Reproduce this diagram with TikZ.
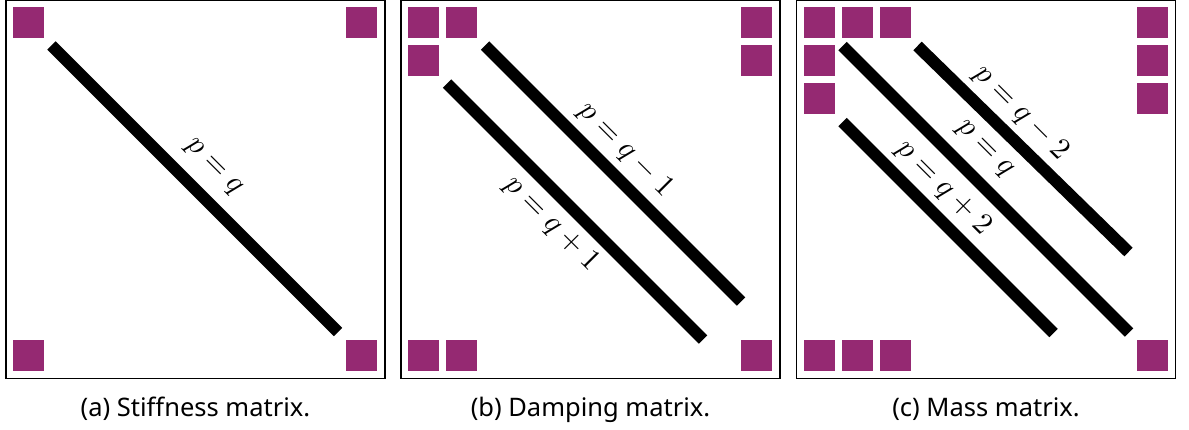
\documentclass[tikz,border=0pt]{standalone}
\usepackage{fontspec}
\newfontfamily\capfont{Noto Sans}
\usetikzlibrary{calc}
\definecolor{blockfill}{RGB}{149,41,114}
\tikzset{
  frame/.style={draw=black, line width=1.3pt},
  block/.style={fill=blockfill},
  band/.style={draw=black, line width=12pt, line cap=butt},
  bandlabel/.style={font=\fontsize{10}{12}\selectfont, inner sep=0pt, scale=3, rotate=-45},
  caption/.style={font=\capfont\fontsize{25.5}{30}\selectfont, anchor=base, inner sep=0pt}
}
% a filled non-zero block of side 31 with its top-left corner at (#1,#2)
\newcommand\blk[2]{\fill[block] (#1,#2) rectangle ++(31,31);}

\begin{document}
\begin{tikzpicture}[x=1pt, y=-1pt]
\useasboundingbox (0,0) rectangle (1189,430);

% ---------- (a) stiffness ----------
\begin{scope}[shift={(6,0)}]
  \draw[frame] (0,0.5) rectangle (379,378.5);
  \blk{7}{7.5} \blk{340}{7.5} \blk{7}{340} \blk{340}{340}
  \coordinate (as) at (45.5,45.5);
  \coordinate (ae) at (332,332);
  \draw[band] (as) -- (ae);
  \node[bandlabel] (al) at (207,168) {$p=q$};
  \node[caption] (acap) at (189.5,416) {(a) Stiffness matrix.};
\end{scope}

% ---------- (b) damping ----------
\begin{scope}[shift={(401,0)}]
  \draw[frame] (0,0.5) rectangle (379,378.5);
  \blk{7}{7.5} \blk{45}{7.5} \blk{7}{45.5}
  \blk{340}{7.5} \blk{340}{45.5}
  \blk{7}{340} \blk{45}{340}
  \blk{340}{340}
  \coordinate (bus) at (84,45.5);
  \coordinate (bue) at (340,301.5);
  \coordinate (bls) at (46,83.5);
  \coordinate (ble) at (302,339.5);
  \draw[band] (bus) -- (bue);
  \draw[band] (bls) -- (ble);
  \node[bandlabel] (bul) at (224.5,150) {$p=q-1$};
  \node[bandlabel] (bll) at (150.5,224) {$p=q+1$};
  \node[caption] (bcap) at (189.5,416) {(b) Damping matrix.};
\end{scope}

% ---------- (c) mass ----------
\begin{scope}[shift={(796.5,0)}]
  \draw[frame] (0,0.5) rectangle (379,378.5);
  \blk{7}{7.5} \blk{45}{7.5} \blk{83}{7.5}
  \blk{7}{45.5} \blk{7}{83.5}
  \blk{340}{7.5} \blk{340}{45.5} \blk{340}{83.5}
  \blk{7}{340} \blk{45}{340} \blk{83}{340}
  \blk{340}{340}
  \coordinate (cms) at (46,46);
  \coordinate (cme) at (332.5,332.5);
  \coordinate (cus) at (121,46);
  \coordinate (cue) at (332,252);
  \coordinate (cls) at (46,122);
  \coordinate (cle) at (257,333);
  \draw[band] (cms) -- (cme);
  \draw[band] (cus) -- (cue);
  \draw[band] (cls) -- (cle);
  \node[bandlabel] (cul) at (224.5,113) {$p=q-2$};
  \node[bandlabel] (cml) at (187.5,150) {$p=q$};
  \node[bandlabel] (cll) at (147,188) {$p=q+2$};
  \node[caption] (ccap) at (189.5,416) {(c) Mass matrix.};
\end{scope}
\end{tikzpicture}
\end{document}
